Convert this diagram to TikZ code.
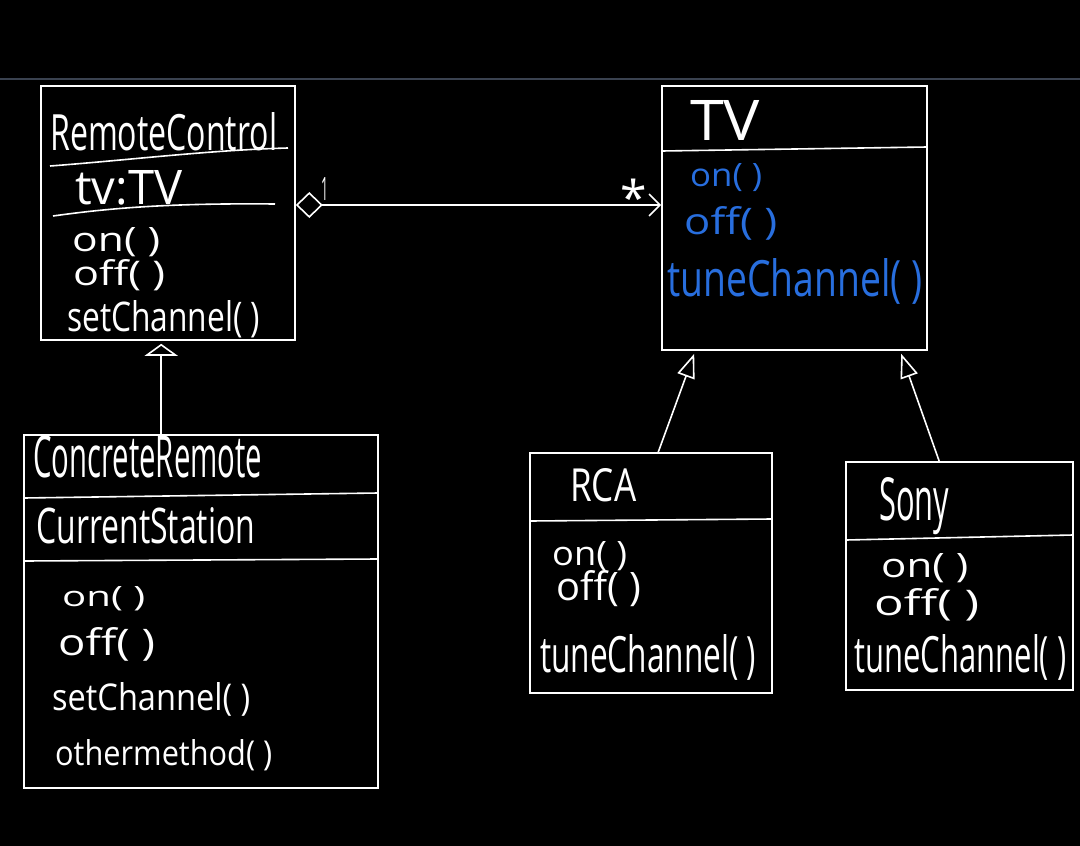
\documentclass[tikz,border=0pt]{standalone}
\usepackage{fontspec}
\setmainfont{Open Sans}
\usetikzlibrary{arrows.meta,calc}
\definecolor{hwblue}{RGB}{40,110,222}
\definecolor{barline}{RGB}{58,66,80}
\newcommand{\hwtext}[3]{\resizebox{#1pt}{#2pt}{#3}}
\begin{document}
\begin{tikzpicture}[x=1pt,y=-1pt,
  umlbox/.style={draw=white, line width=1.6pt, inner sep=0pt, rectangle},
  divider/.style={draw=white, line width=1.6pt},
  txt/.style={text=white, inner sep=0pt, anchor=base west},
  btxt/.style={text=hwblue, inner sep=0pt, anchor=base west},
  link/.style={draw=white, line width=1.6pt},
  inhbig/.style={-{Triangle[open,length=12pt,width=33pt]}},
  inhsmall/.style={-{Triangle[open,length=24pt,width=18pt]}},
  assoc/.style={{Diamond[open,length=27pt,width=26pt]}-{Straight Barb[length=11pt,width=22pt]}}
]
\useasboundingbox (0,0) rectangle (1080,846);
\fill[black] (0,0) rectangle (1080,846);
\draw[barline, line width=2.5pt] (0,79) -- (1080,79);

% boxes
\node[umlbox, minimum width=254pt, minimum height=254pt] (rc) at (168,213) {};
\node[umlbox, minimum width=265pt, minimum height=264pt] (tv) at (794.5,218) {};
\node[umlbox, minimum width=354pt, minimum height=353pt] (cr) at (201,611.5) {};
\node[umlbox, minimum width=242pt, minimum height=240pt] (rca) at (651,573) {};
\node[umlbox, minimum width=227pt, minimum height=228pt] (sony) at (959.5,576) {};

% dividers
\draw[divider] (50,166) .. controls (130,160) and (210,150) .. (288,148);
\draw[divider] (53,216) .. controls (110,208) and (170,203) .. (275,204);
\draw[divider] (662,151) -- (927,147);
\draw[divider] (24,498) -- (378,493);
\draw[divider] (24,561) -- (378,559);
\draw[divider] (530,521) -- (772,519);
\draw[divider] (846,540) -- (1073,535);

% RemoteControl texts
\node[txt] (rct) at (50,150) {\hwtext{227}{38}{RemoteControl}};
\node[txt] (rca1) at (75,204) {\hwtext{107}{34}{tv:TV}};
\node[txt] (rcm1) at (72,251) {\hwtext{88}{24}{on( )}};
\node[txt] (rcm2) at (73,285) {\hwtext{92}{26}{off( )}};
\node[txt] (rcm3) at (67,331) {\hwtext{193}{31}{setChannel( )}};

% TV texts
\node[txt] (tvt) at (690,140) {\hwtext{70}{40}{TV}};
\node[btxt] (tvm1) at (690,186) {\hwtext{72}{23}{on( )}};
\node[btxt] (tvm2) at (684,234) {\hwtext{93}{28}{off( )}};
\node[btxt] (tvm3) at (667,296) {\hwtext{255}{38}{tuneChannel( )}};

% ConcreteRemote texts
\node[txt] (crt) at (33,477) {\hwtext{229}{42}{ConcreteRemote}};
\node[txt] (cra1) at (36,543) {\hwtext{219}{36}{CurrentStation}};
\node[txt] (crm1) at (62,606) {\hwtext{83}{20}{on( )}};
\node[txt] (crm2) at (58,655) {\hwtext{97}{28}{off( )}};
\node[txt] (crm3) at (52,710) {\hwtext{198}{28}{setChannel( )}};
\node[txt] (crm4) at (55,765) {\hwtext{217}{26}{othermethod( )}};

% RCA texts
\node[txt] (rcat) at (570,501) {\hwtext{66}{33}{RCA}};
\node[txt] (rcam1) at (552,565) {\hwtext{75}{24}{on( )}};
\node[txt] (rcam2) at (556,600) {\hwtext{85}{30}{off( )}};
\node[txt] (rcam3) at (540,672) {\hwtext{216}{38}{tuneChannel( )}};

% Sony texts
\node[txt] (sonyt) at (879,520) {\hwtext{70}{43}{Sony}};
\node[txt] (sonym1) at (881,577) {\hwtext{87}{24}{on( )}};
\node[txt] (sonym2) at (874,615) {\hwtext{105}{27}{off( )}};
\node[txt] (sonym3) at (854,672) {\hwtext{212}{38}{tuneChannel( )}};

% association
\coordinate (aL) at ($(rc.east)+(0,-8)$);
\draw[link, assoc] (aL) -- (aL -| tv.west);
\node[txt] (m1) at (321,200) {\hwtext{7}{23}{1}};
\node[txt] (m2) at (620,215) {\fontsize{48}{48}\selectfont *};

% inheritance
\draw[link, inhbig] ($(cr.north west)+(138,0)$) -- ($(rc.south west)+(121,3)$);
\draw[link, inhsmall] ($(rca.north west)+(129,0)$) -- ($(tv.south west)+(33,3)$);
\draw[link, inhsmall] ($(sony.north west)+(94,0)$) -- ($(tv.south west)+(240,3)$);
\end{tikzpicture}
\end{document}
